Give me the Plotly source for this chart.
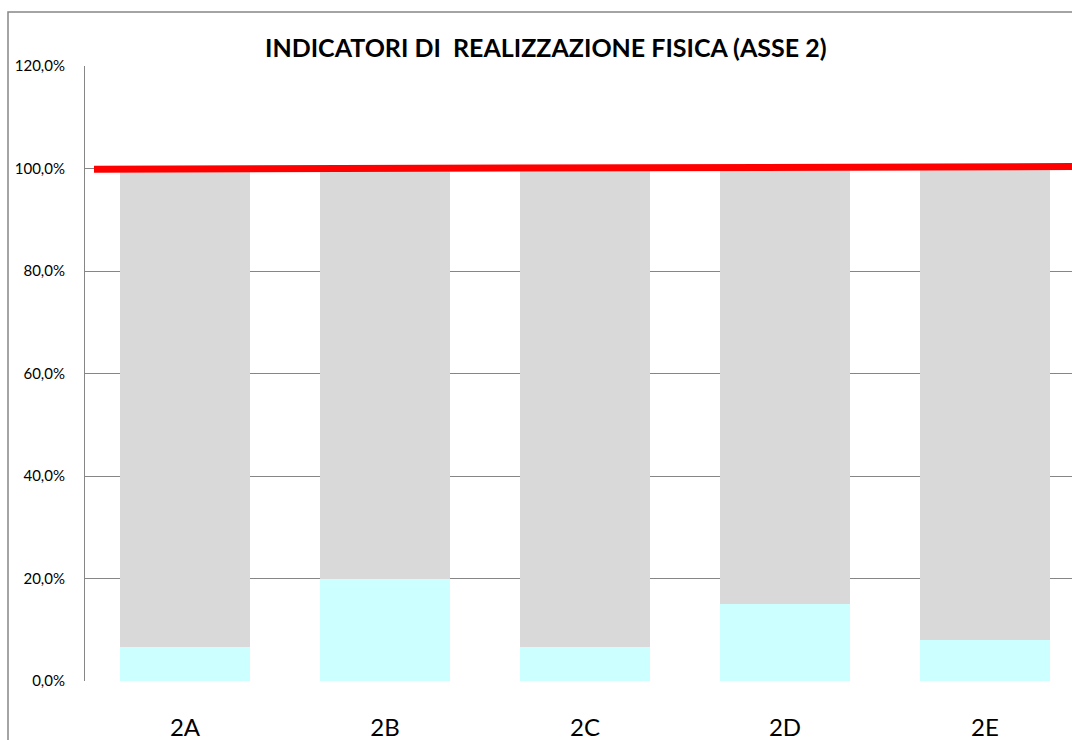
import plotly.graph_objects as go

categories = ["2A", "2B", "2C", "2D", "2E"]
realized = [6.7, 20.0, 6.7, 15.0, 8.0]          # % realised (cyan)
remaining = [100 - v for v in realized]         # % remaining to target (gray)
target_x = [-0.455, 4.6]                        # red target line extent (category units)
target_y = [99.86, 100.39]                      # red target line values (%)
y_ticks = [0, 20, 40, 60, 80, 100, 120]
y_tick_labels = ["0,0%", "20,0%", "40,0%", "60,0%", "80,0%", "100,0%", "120,0%"]

W, H = 1072, 740
L, T, B = 85, 66, 59
plot_w = W - L
plot_h = H - T - B

xpos = list(range(len(categories)))

fig = go.Figure()
fig.add_trace(go.Bar(x=xpos, y=realized, marker=dict(color="#CCFFFF", line=dict(width=0)),
                     width=0.65, showlegend=False))
fig.add_trace(go.Bar(x=xpos, y=remaining, marker=dict(color="#D9D9D9", line=dict(width=0)),
                     width=0.65, showlegend=False))
fig.add_trace(go.Scatter(x=target_x, y=target_y, mode="lines",
                         line=dict(color="#FF0000", width=7), showlegend=False))

font_fam = "Lato, 'Liberation Sans', sans-serif"

fig.update_layout(
    width=W, height=H,
    margin=dict(l=L, r=0, t=T, b=B, pad=0),
    paper_bgcolor="white", plot_bgcolor="white",
    barmode="stack", bargap=0.35,
    font=dict(family=font_fam, color="#000000"),
    xaxis=dict(range=[-0.5, -0.5 + plot_w / 200.0], tickvals=xpos, ticktext=categories,
               showgrid=False, zeroline=False, showline=False, ticks="",
               tickfont=dict(size=24, family=font_fam, color="#000"),
               ticklabelstandoff=30, fixedrange=True),
    yaxis=dict(range=[0, 120], tickvals=y_ticks, ticktext=y_tick_labels,
               showgrid=True, gridcolor="#868686", gridwidth=1,
               zeroline=False, showline=True, linecolor="#868686", linewidth=1,
               ticks="", tickfont=dict(size=15, family=font_fam, color="#000"),
               ticklabelstandoff=16, fixedrange=True),
    annotations=[dict(text="INDICATORI DI\u00a0 REALIZZAZIONE FISICA (ASSE 2)",
                      x=(545.5 - L) / plot_w, y=(H - B - 47) / plot_h,
                      xref="paper", yref="paper", xanchor="center", yanchor="middle",
                      showarrow=False,
                      font=dict(size=25, family=font_fam, color="#000", weight="bold"))],
    shapes=[dict(type="rect", xref="paper", yref="paper",
                 x0=(8 - L) / plot_w, x1=1.2,
                 y0=(H - B - 12) / plot_h, y1=-0.3,
                 line=dict(color="#868686", width=1.5), fillcolor="rgba(0,0,0,0)",
                 layer="below")],
)

fig.write_html("out.html", config={"displayModeBar": False},
               post_script="document.body.style.margin='0';document.body.style.overflow='hidden';")
